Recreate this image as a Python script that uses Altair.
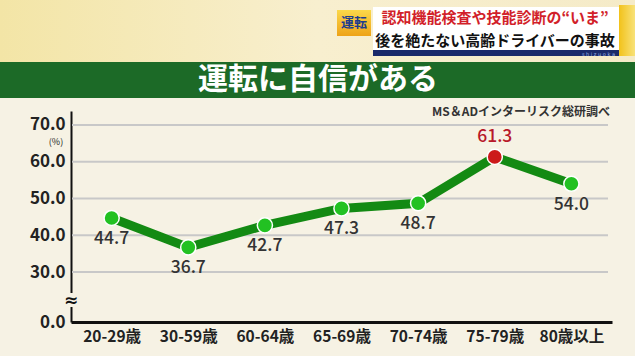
import altair as alt
import pandas as pd

categories = ["20-29歳", "30-59歳", "60-64歳", "65-69歳", "70-74歳", "75-79歳", "80歳以上"]
values = [44.7, 36.7, 42.7, 47.3, 48.7, 61.3, 54.0]
grid_values = [30, 40, 50, 60, 70]
axis_ticks = [16.4, 30, 40, 50, 60, 70]

FONT = "Noto Sans CJK JP"
BG = "#f6f2e4"

df = pd.DataFrame({"cat": categories, "val": values})
df["peak"] = df["val"] == df["val"].max()
df["label"] = df["val"].map(lambda v: f"{v:.1f}")
one = pd.DataFrame({"a": [0]})

x_enc = alt.X("cat:N", sort=categories,
              scale=alt.Scale(type="point", padding=0.53),
              axis=alt.Axis(title=None, labelAngle=0, ticks=False, domainColor="#111",
                            domainWidth=3, labelFont=FONT, labelFontSize=15.5,
                            labelFontWeight="bold", labelColor="#222", labelPadding=7))
y_scale = alt.Scale(domain=[16.4, 73.8], nice=False, zero=False)
y_enc = alt.Y("val:Q", scale=y_scale,
              axis=alt.Axis(title=None, values=axis_ticks, ticks=False, grid=False,
                            domainColor="#111", domainWidth=2, labelFont=FONT,
                            labelFontSize=17, labelFontWeight="bold", labelColor="#222",
                            labelPadding=6,
                            labelExpr="datum.value < 20 ? '0.0' : format(datum.value, '.1f')"))

base = alt.Chart(df)

grid = alt.Chart(pd.DataFrame({"g": grid_values})).mark_rule(
    color="#c8c8c8", strokeWidth=2
).encode(y=alt.Y("g:Q", scale=y_scale), x=alt.value(1), x2=alt.value(537))

line = base.mark_line(color="#138a13", strokeWidth=9).encode(x=x_enc, y=y_enc)

pts = base.mark_point(filled=True, size=230, opacity=1, stroke="white", strokeWidth=1.5).encode(
    x=alt.X("cat:N", sort=categories), y=alt.Y("val:Q"),
    fill=alt.condition("datum.peak", alt.value("#cc1a1a"), alt.value("#22c122")))

lbl_low = base.transform_filter("!datum.peak").mark_text(
    dy=21, font=FONT, fontSize=17.5, fontWeight=500, color="#333"
).encode(x=alt.X("cat:N", sort=categories), y=alt.Y("val:Q"), text="label:N")

lbl_hi = base.transform_filter("datum.peak").mark_text(
    dy=-20, font=FONT, fontSize=17.5, fontWeight=500, color="#b8192a"
).encode(x=alt.X("cat:N", sort=categories), y=alt.Y("val:Q"), text="label:N")

d = alt.Chart(one)

# axis break
brk_bg = d.mark_rect(color=BG).encode(x=alt.value(-4), x2=alt.value(5), y=alt.value(182), y2=alt.value(196))
brk = d.mark_text(text="≈", font="DejaVu Sans", fontSize=17, fontWeight="bold", color="#111").encode(
    x=alt.value(0), y=alt.value(190))
pct = d.mark_text(text="(%)", font=FONT, fontSize=9, color="#222").encode(x=alt.value(-15), y=alt.value(30.5))
src = d.mark_text(text="MS＆ADインターリスク総研調べ", font=FONT, fontSize=12, fontWeight="bold",
                  color="#333", align="right").encode(x=alt.value(539), y=alt.value(1))

# header
top_bg = d.mark_rect(fill=alt.Gradient(gradient="linear", x1=0, x2=1, y1=0, y2=0,
                                       stops=[alt.GradientStop(color="#f3e5a6", offset=0),
                                              alt.GradientStop(color="#f8efcf", offset=0.5),
                                              alt.GradientStop(color="#f5ebc8", offset=1)])
                     ).encode(x=alt.value(-71), x2=alt.value(564), y=alt.value(-111), y2=alt.value(-49))
band = d.mark_rect(color="#1c6a27").encode(x=alt.value(-71), x2=alt.value(564), y=alt.value(-49), y2=alt.value(-13))
title = d.mark_text(text="運転に自信がある", font=FONT, fontSize=30, fontWeight="bold", color="white").encode(
    x=alt.value(247), y=alt.value(-31))

cap_white = d.mark_rect(color="white").encode(x=alt.value(302), x2=alt.value(548), y=alt.value(-104), y2=alt.value(-61))
cap_navy = d.mark_rect(color="#1a2a6a").encode(x=alt.value(302), x2=alt.value(548), y=alt.value(-61), y2=alt.value(-55))
cap_edge = d.mark_rect(fill=alt.Gradient(gradient="linear", x1=0, x2=1, y1=0, y2=0,
                                         stops=[alt.GradientStop(color="#f2c21a", offset=0),
                                                alt.GradientStop(color="#f8e27a", offset=1)])
                       ).encode(x=alt.value(548), x2=alt.value(564), y=alt.value(-106), y2=alt.value(-55))
badge = d.mark_rect(fill=alt.Gradient(gradient="linear", x1=0, x2=0, y1=0, y2=1,
                                      stops=[alt.GradientStop(color="#fbd84a", offset=0),
                                             alt.GradientStop(color="#eea318", offset=1)])
                    ).encode(x=alt.value(266), x2=alt.value(300), y=alt.value(-101), y2=alt.value(-75))
badge_t = d.mark_text(text="運転", font=FONT, fontSize=13, fontWeight="bold", color="#1b3c8e").encode(
    x=alt.value(283), y=alt.value(-88))
cap1 = d.mark_text(text="認知機能検査や技能診断の“いま”", font=FONT, fontSize=15, fontWeight="bold",
                   color="#d21f2a").encode(x=alt.value(424), y=alt.value(-93))
cap2 = d.mark_text(text="後を絶たない高齢ドライバーの事故", font=FONT, fontSize=15, fontWeight="bold",
                   color="#111").encode(x=alt.value(424), y=alt.value(-70))
shz = d.mark_text(text="s h i z u o k a", font="DejaVu Sans", fontSize=5, color="#9fb7e8", align="right").encode(
    x=alt.value(544), y=alt.value(-57.5))

chart = alt.layer(
    top_bg, band, title, cap_edge, cap_white, cap_navy, badge, badge_t, cap1, cap2, shz,
    grid, line, pts, lbl_low, lbl_hi, brk_bg, brk, pct, src
).properties(
    width=541, height=211,
    padding={"left": 71, "top": 111, "right": 23, "bottom": 34},
    autosize=alt.AutoSizeParams(type="none"),
    background=BG,
).configure_view(stroke=None, clip=False)

chart.save("out.html", embed_options={"renderer": "svg", "actions": False})
